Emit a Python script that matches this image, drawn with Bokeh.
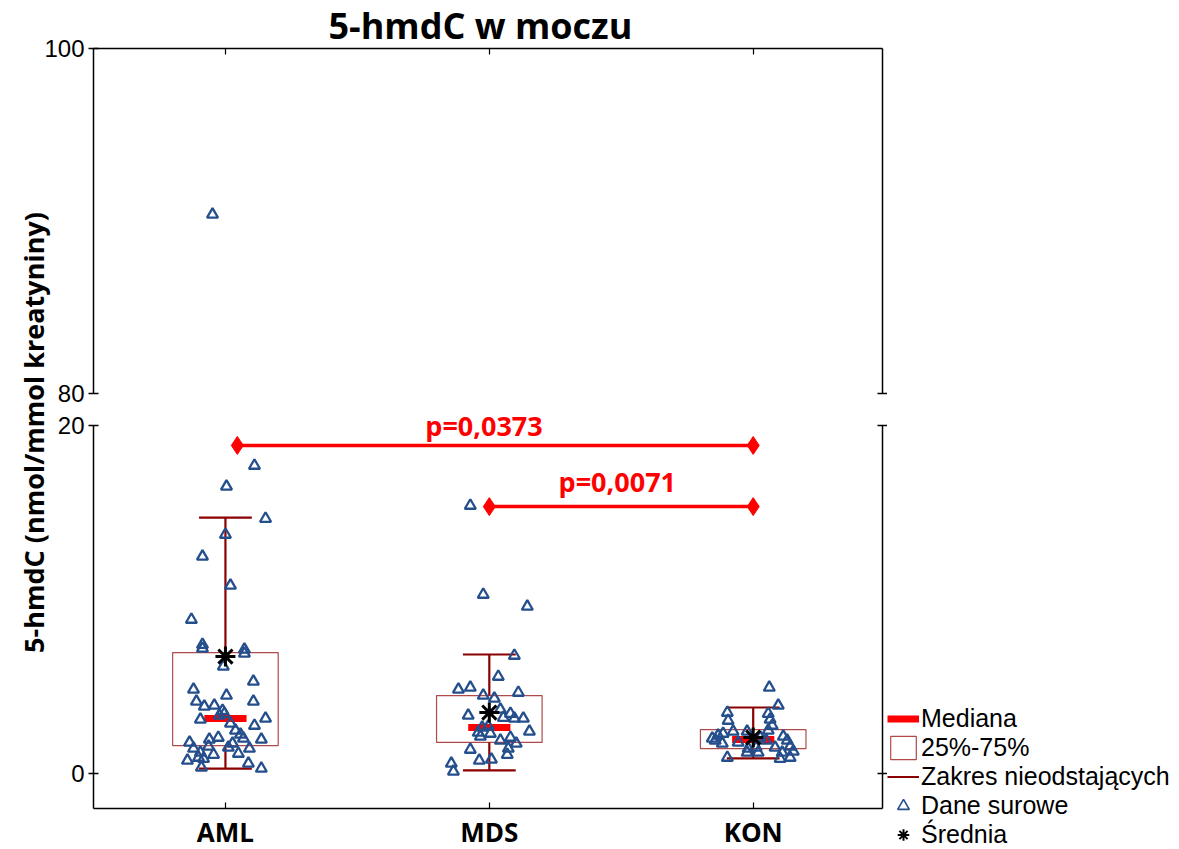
import math
from bokeh.plotting import figure
from bokeh.models import (ColumnDataSource, FixedTicker, LinearAxis, Range1d,
                          Legend, LegendItem, Label, LabelSet)
from bokeh.layouts import row, column
from bokeh.embed import file_html
from bokeh.resources import INLINE
from bokeh.core.properties import value

# ---------------- data ----------------
title_text = "5-hmdC w moczu"
y_label = "5-hmdC (nmol/mmol kreatyniny)"
groups = ["AML", "MDS", "KON"]
group_x = [1, 2, 3]

q1 = [1.59, 1.77, 1.42]
q3 = [6.94, 4.47, 2.51]
median = [3.15, 2.63, 1.94]
whisk_lo = [0.27, 0.16, 0.85]
whisk_hi = [14.71, 6.83, 3.78]
mean = [6.71, 3.49, 2.05]

aml_jitter = [0.11, 0.004, 0.152, 0.0, -0.087, 0.019, -0.129, -0.087, -0.087, 0.072,
              0.072, -0.008, -0.121, 0.106, 0.004, -0.11, -0.08, -0.042, 0.106, -0.011,
              -0.004, -0.023, -0.095, 0.152, 0.019, 0.11, 0.038, 0.057, 0.068, 0.136,
              -0.061, -0.027, -0.136, 0.027, 0.011, -0.121, -0.064, -0.095, 0.091, -0.045,
              0.049, -0.144, -0.102, -0.083, 0.087, -0.091, 0.136, -0.049]
aml_values = [17.7, 16.5, 14.65, 13.73, 12.47, 10.8, 8.84, 7.4, 7.18, 7.12,
              6.89, 6.14, 4.82, 5.28, 4.47, 4.13, 3.84, 3.9, 4.13, 3.6,
              3.43, 3.32, 3.09, 3.15, 2.86, 2.74, 2.46, 2.23, 2.0, 1.94,
              1.94, 2.05, 1.77, 1.71, 1.48, 1.42, 1.54, 1.19, 1.42, 1.07,
              1.13, 0.73, 0.9, 0.84, 0.56, 0.33, 0.27, 90.38]

mds_jitter = [-0.072, -0.023, 0.144, 0.095, 0.034, -0.117, -0.072, 0.11, -0.023, 0.019,
              -0.08, 0.042, 0.053, 0.08, 0.095, 0.129, -0.027, -0.042, 0.004, 0.152,
              -0.034, 0.08, 0.102, 0.072, 0.068, -0.072, -0.038, 0.008, -0.144, -0.136,
              -0.004, 0.042]
mds_values = [15.4, 10.28, 9.59, 6.77, 5.56, 4.82, 4.93, 4.64, 4.47, 4.3,
              3.32, 3.67, 3.2, 3.43, 3.15, 3.15, 2.63, 2.34, 2.28, 2.4,
              2.11, 2.05, 1.71, 1.42, 1.07, 1.36, 0.73, 0.79, 0.56, 0.1,
              2.69, 1.88]

kon_jitter = [0.061, 0.095, -0.098, 0.057, -0.095, 0.064, 0.072, -0.076, -0.023, 0.057,
              -0.133, -0.114, 0.027, 0.114, -0.144, -0.057, 0.049, 0.129, -0.117, -0.019,
              0.011, 0.083, 0.14, -0.023, 0.019, 0.11, 0.152, -0.098, 0.102, 0.14,
              -0.155]
kon_values = [4.93, 3.9, 3.49, 3.43, 3.03, 3.09, 2.74, 2.4, 2.4, 2.46,
              2.17, 2.28, 2.05, 2.11, 1.88, 1.77, 1.88, 1.88, 1.71, 1.42,
              1.48, 1.48, 1.54, 1.19, 1.19, 1.19, 1.25, 0.9, 0.84, 0.9,
              2.0]

cmp_from = [1.045, 2.0]
cmp_to = [3.0, 3.0]
cmp_level = [18.86, 15.34]
cmp_text = ["p=0,0373", "p=0,0071"]
cmp_text_x = [1.98, 2.485]
cmp_text_y = [19.43, 16.17]

legend_labels = ["Mediana", "25%-75%", "Zakres nieodstających", "Dane surowe", "Średnia"]

# ---------------- styling ----------------
BOX_HALF = 0.2
MED_HALF = 0.08
CAP_HALF = 0.1
TRI_COLOR = "#244f8c"
WHISK_COLOR = "#8b0000"
BOX_COLOR = "#b04a4a"
RED = "#ff0000"
TICK_FONT = "Liberation Sans"
BOLD_FONT = "Open Sans"

pt_x = ([group_x[0] + j for j in aml_jitter] + [group_x[1] + j for j in mds_jitter]
        + [group_x[2] + j for j in kon_jitter])
pt_y = aml_values + mds_values + kon_values
pts = ColumnDataSource(dict(x=pt_x, y=pt_y))

stats = ColumnDataSource(dict(
    x=group_x,
    left=[g - BOX_HALF for g in group_x], right=[g + BOX_HALF for g in group_x],
    mleft=[g - MED_HALF for g in group_x], mright=[g + MED_HALF for g in group_x],
    cleft=[g - CAP_HALF for g in group_x], cright=[g + CAP_HALF for g in group_x],
    q1=q1, q3=q3, med=median, lo=whisk_lo, hi=whisk_hi, mean=mean))

cmp = ColumnDataSource(dict(x0=cmp_from, x1=cmp_to, y=cmp_level,
                            tx=cmp_text_x, ty=cmp_text_y, text=cmp_text))

x_range = Range1d(0.5, 3.49)
LAB_W = 56
LAB_OVERLAP = 16
FRAME_W = 789
LEFT_B = 53
RIGHT_B = 5
PLOT_W = LEFT_B + FRAME_W + RIGHT_B
LEG_W = 1179 - (LAB_W - LAB_OVERLAP) - PLOT_W
PX_PER_UNIT = 17.38

MED_STYLE = dict(line_color=RED, line_width=7, line_cap="butt")
BOX_STYLE = dict(fill_color="white", line_color=BOX_COLOR, line_width=1.2)
WHISK_STYLE = dict(line_color=WHISK_COLOR, line_width=2.2)
TRI_STYLE = dict(marker="triangle", fill_color=None, line_color=TRI_COLOR)
MEAN_STYLE = dict(marker="asterisk", line_color="black")


def style_common(p):
    p.outline_line_color = None
    p.grid.visible = False
    p.background_fill_color = "white"
    p.border_fill_color = None


def blank(ticks):
    return {t: "" for t in ticks}


def add_marks(p, tri_size=11, tri_lw=2.3, mean_size=20, mean_lw=3):
    r = {}
    r["box"] = p.quad(left="left", right="right", bottom="q1", top="q3", source=stats,
                      **BOX_STYLE)
    r["wh"] = p.segment(x0="x", y0="q3", x1="x", y1="hi", source=stats, **WHISK_STYLE)
    p.segment(x0="x", y0="lo", x1="x", y1="q1", source=stats, **WHISK_STYLE)
    p.segment(x0="cleft", y0="hi", x1="cright", y1="hi", source=stats, **WHISK_STYLE)
    p.segment(x0="cleft", y0="lo", x1="cright", y1="lo", source=stats, **WHISK_STYLE)
    r["med"] = p.segment(x0="mleft", y0="med", x1="mright", y1="med", source=stats,
                         **MED_STYLE)
    r["tri"] = p.scatter(x="x", y="y", source=pts, size=tri_size, line_width=tri_lw,
                         **TRI_STYLE)
    r["mn"] = p.scatter(x="x", y="mean", source=stats, size=mean_size, line_width=mean_lw,
                        **MEAN_STYLE)
    return r


# ---------------- top panel (80-100) ----------------
top = figure(frame_width=FRAME_W, frame_height=345, x_range=x_range,
             y_range=Range1d(80, 100), output_backend="svg", toolbar_location=None,
             x_axis_location=None, y_axis_location=None,
             min_border_left=LEFT_B, min_border_right=RIGHT_B,
             min_border_top=48, min_border_bottom=13)
style_common(top)
add_marks(top)

ax_tl = LinearAxis(ticker=FixedTicker(ticks=[80, 100]), major_tick_out=5, major_tick_in=5,
                   major_label_standoff=4, major_label_text_font=TICK_FONT,
                   major_label_text_font_size="24px", major_label_text_color="black",
                   axis_line_width=1.5, major_tick_line_width=1.5, minor_tick_line_color=None)
top.add_layout(ax_tl, "left")
ax_tr = LinearAxis(ticker=FixedTicker(ticks=[80]), major_tick_out=5, major_tick_in=5,
                   major_label_overrides=blank([80]), major_label_standoff=0,
                   axis_line_width=1.5, major_tick_line_width=1.5, minor_tick_line_color=None)
top.add_layout(ax_tr, "right")
ax_tt = LinearAxis(ticker=FixedTicker(ticks=group_x), major_tick_out=0, major_tick_in=6,
                   major_label_overrides=blank(group_x), major_label_standoff=0,
                   major_label_text_font_size="1px",
                   axis_line_width=1.5, major_tick_line_width=1.2, minor_tick_line_color=None)
top.add_layout(ax_tt, "above")

top.title.text = title_text
top.title.align = "left"
top.title.offset = 235
top.title.standoff = -3
top.title.text_font = BOLD_FONT
top.title.text_font_style = "bold"
top.title.text_font_size = "36px"
top.title.text_color = "black"

# ---------------- bottom panel (-2-20, frame a little taller so labels fit) ----------------
BOT_FRAME_H = 402
bot_lo = -2.03
bot_hi = bot_lo + BOT_FRAME_H / PX_PER_UNIT
bot = figure(frame_width=FRAME_W, frame_height=BOT_FRAME_H, x_range=x_range,
             y_range=Range1d(bot_lo, bot_hi), output_backend="svg", toolbar_location=None,
             x_axis_location=None, y_axis_location=None,
             min_border_left=LEFT_B, min_border_right=RIGHT_B,
             min_border_top=0, min_border_bottom=38)
style_common(bot)
add_marks(bot)

bot.segment(x0="x0", y0="y", x1="x1", y1="y", source=cmp, line_color=RED, line_width=3.5)
bot.scatter(x="x0", y="y", source=cmp, marker="diamond", size=18, fill_color=RED, line_color=RED)
bot.scatter(x="x1", y="y", source=cmp, marker="diamond", size=18, fill_color=RED, line_color=RED)
bot.add_layout(LabelSet(x="tx", y="ty", text="text", source=cmp, text_align="center",
                        text_baseline="alphabetic", text_color=RED,
                        text_font=value(BOLD_FONT), text_font_style="bold",
                        text_font_size="27px"))

ax_bl = LinearAxis(ticker=FixedTicker(ticks=[0, 20]), bounds=(bot_lo, 20),
                   major_tick_out=5, major_tick_in=5,
                   major_label_standoff=4, major_label_text_font=TICK_FONT,
                   major_label_text_font_size="24px", major_label_text_color="black",
                   axis_line_width=1.5, major_tick_line_width=1.5, minor_tick_line_color=None)
bot.add_layout(ax_bl, "left")
ax_br = LinearAxis(ticker=FixedTicker(ticks=[0, 20]), bounds=(bot_lo, 20),
                   major_tick_out=5, major_tick_in=5,
                   major_label_overrides=blank([0, 20]), major_label_standoff=0,
                   axis_line_width=1.5, major_tick_line_width=1.5, minor_tick_line_color=None)
bot.add_layout(ax_br, "right")
ax_bb = LinearAxis(ticker=FixedTicker(ticks=group_x), major_tick_out=0, major_tick_in=6,
                   major_label_overrides={g: n for g, n in zip(group_x, groups)},
                   major_label_standoff=5, major_label_text_font=BOLD_FONT,
                   major_label_text_font_style="bold", major_label_text_font_size="26px",
                   major_label_text_color="black",
                   axis_line_width=1.5, major_tick_line_width=1.2, minor_tick_line_color=None)
bot.add_layout(ax_bb, "below")

# ---------------- legend column (same data, drawn out of view; only the legend shows) ----------------
leg = figure(width=LEG_W, height=849, x_range=Range1d(10, 11), y_range=Range1d(200, 201),
             output_backend="svg", toolbar_location=None, x_axis_type=None, y_axis_type=None,
             min_border=0)
leg.outline_line_color = None
leg.grid.visible = False
lr = add_marks(leg, tri_size=9, tri_lw=1.6, mean_size=17, mean_lw=2)
legend = Legend(items=[LegendItem(label=legend_labels[0], renderers=[lr["med"]]),
                       LegendItem(label=legend_labels[1], renderers=[lr["box"]]),
                       LegendItem(label=legend_labels[2], renderers=[lr["wh"]]),
                       LegendItem(label=legend_labels[3], renderers=[lr["tri"]]),
                       LegendItem(label=legend_labels[4], renderers=[lr["mn"]])],
                location=(0, 0), orientation="vertical",
                label_text_font=TICK_FONT, label_text_font_size="25px",
                label_text_color="black", glyph_width=32, glyph_height=29,
                label_height=29, label_standoff=2, spacing=0, padding=0, margin=0,
                border_line_color=None, background_fill_alpha=0)
leg.add_layout(legend, "center")

# ---------------- y label column ----------------
lab = figure(width=LAB_W, height=849, x_range=Range1d(0, LAB_W), y_range=Range1d(0, 849),
             output_backend="svg", toolbar_location=None, x_axis_type=None, y_axis_type=None,
             min_border=0, margin=(0, -LAB_OVERLAP, 0, 0))
lab.outline_line_color = None
lab.grid.visible = False
lab.add_layout(Label(x=33, y=417, text=y_label, angle=math.pi / 2, text_align="center",
                     text_baseline="middle", text_font=BOLD_FONT, text_font_style="bold",
                     text_font_size="27px", text_color="black"))

layout = row(lab, column(top, bot, spacing=0), leg, spacing=0)
open("out.html", "w").write(file_html(layout, INLINE))
